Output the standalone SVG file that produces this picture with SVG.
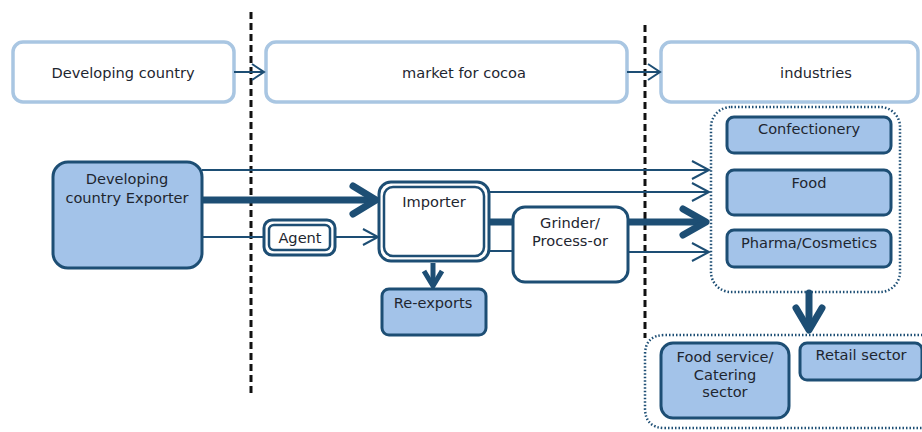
<svg xmlns="http://www.w3.org/2000/svg" width="922" height="432" viewBox="0 0 922 432">
<style>
text{font-family:"DejaVu Sans","Liberation Sans",sans-serif;font-size:14.6px;fill:#1e2630;text-anchor:middle}
.hdr{fill:#fff;stroke:#a9c6e2;stroke-width:3.5}
.blue{fill:#a3c3e9;stroke:#1d4e74;stroke-width:3}
.white{fill:#fff;stroke:#1d4e74;stroke-width:3}
.dot{fill:none;stroke:#1d4e74;stroke-width:2.5;stroke-dasharray:1.5 2}
.thin{fill:none;stroke:#1d4e74;stroke-width:2}
.thick{fill:none;stroke:#1d4e74;stroke-width:7;stroke-linecap:round;stroke-linejoin:round}
.mid{fill:none;stroke:#1d4e74;stroke-width:5}
.div{fill:none;stroke:#111;stroke-width:3;stroke-dasharray:7 4}
</style>
<rect width="922" height="432" fill="#fff"/>
<g id="dividers">
<line class="div" x1="251" y1="12" x2="251" y2="395"/>
<line class="div" x1="645" y1="25" x2="645" y2="338"/>
</g>
<g id="hdr-developing"><rect class="hdr" x="13" y="42" width="221" height="60" rx="10"/><text x="123" y="78">Developing country</text></g>
<g id="hdr-market"><rect class="hdr" x="266" y="42" width="361" height="60" rx="10"/><text x="464" y="78">market for cocoa</text></g>
<g id="hdr-industries"><rect class="hdr" x="661" y="42" width="257" height="60" rx="10"/><text x="816" y="78">industries</text></g>
<g id="industries-group"><rect class="dot" x="711" y="107" width="189" height="185" rx="20"/></g>
<g id="sectors-group"><path class="dot" d="M940 335 H665 Q645 335 645 355 V408 Q645 428 665 428 H940"/></g>
<g id="connectors">
<line class="thin" x1="234" y1="72" x2="263" y2="72"/><polyline class="thin" points="252,64 264,72 252,80"/>
<line class="thin" x1="627" y1="72" x2="659" y2="72"/><polyline class="thin" points="648,64 660,72 648,80"/>
<line class="thin" x1="202" y1="170" x2="709" y2="170"/><polyline class="thin" points="692,161 709,170 692,179"/>
<line class="thin" x1="489" y1="192" x2="709" y2="192"/><polyline class="thin" points="692,183 709,192 692,201"/>
<line class="thin" x1="489" y1="251" x2="513" y2="251"/>
<line class="thin" x1="628" y1="252" x2="709" y2="252"/><polyline class="thin" points="692,243 709,252 692,261"/>
<line class="thin" x1="202" y1="237" x2="264" y2="237"/>
<line class="thin" x1="335" y1="237" x2="378" y2="237"/><polyline class="thin" points="363,229 378,237 363,245"/>
<line class="thick" x1="203" y1="200" x2="372" y2="200"/><polyline class="thick" points="353,186 376,200 353,214"/>
<line class="thick" x1="489" y1="222" x2="513" y2="222"/>
<line class="thick" x1="628" y1="222" x2="702" y2="222"/><polyline class="thick" points="683,209 706,222 683,235"/>
<line class="mid" x1="433" y1="263" x2="433" y2="286"/><polyline class="mid" points="424,271 433,286 442,271"/>
<line class="thick" x1="809" y1="293" x2="809" y2="328"/><polyline class="thick" points="796,308 809,330 822,308"/>
</g>
<g id="exporter"><rect class="blue" x="53" y="162" width="149" height="106" rx="15"/><text x="127" y="184">Developing</text><text x="127" y="203">country Exporter</text></g>
<g id="agent"><rect class="white" x="264" y="220" width="71" height="35" rx="8"/><rect class="white" x="269" y="225" width="61" height="25" rx="5" style="stroke-width:2.5"/><text x="300" y="243">Agent</text></g>
<g id="importer"><rect class="white" x="379" y="182" width="110" height="79" rx="12"/><rect class="white" x="384" y="187" width="100" height="69" rx="9" style="stroke-width:2.5"/><text x="434" y="207">Importer</text></g>
<g id="reexports"><rect class="blue" x="382" y="289" width="104" height="46" rx="7"/><text x="433" y="308">Re-exports</text></g>
<g id="grinder"><rect class="white" x="513" y="207" width="115" height="75" rx="12"/><text x="570" y="228">Grinder/</text><text x="570" y="246">Process-or</text></g>
<g id="confectionery"><rect class="blue" x="727" y="117" width="164" height="36" rx="7"/><text x="809" y="134">Confectionery</text></g>
<g id="food"><rect class="blue" x="727" y="170" width="164" height="45" rx="7"/><text x="809" y="188">Food</text></g>
<g id="pharma"><rect class="blue" x="727" y="230" width="164" height="37" rx="7"/><text x="809" y="248">Pharma/Cosmetics</text></g>
<g id="foodservice"><rect class="blue" x="661" y="343" width="128" height="75" rx="12"/><text x="725" y="362">Food service/</text><text x="725" y="380">Catering</text><text x="725" y="397">sector</text></g>
<g id="retail"><rect class="blue" x="800" y="343" width="122" height="37" rx="7"/><text x="861" y="360">Retail sector</text></g>
</svg>
